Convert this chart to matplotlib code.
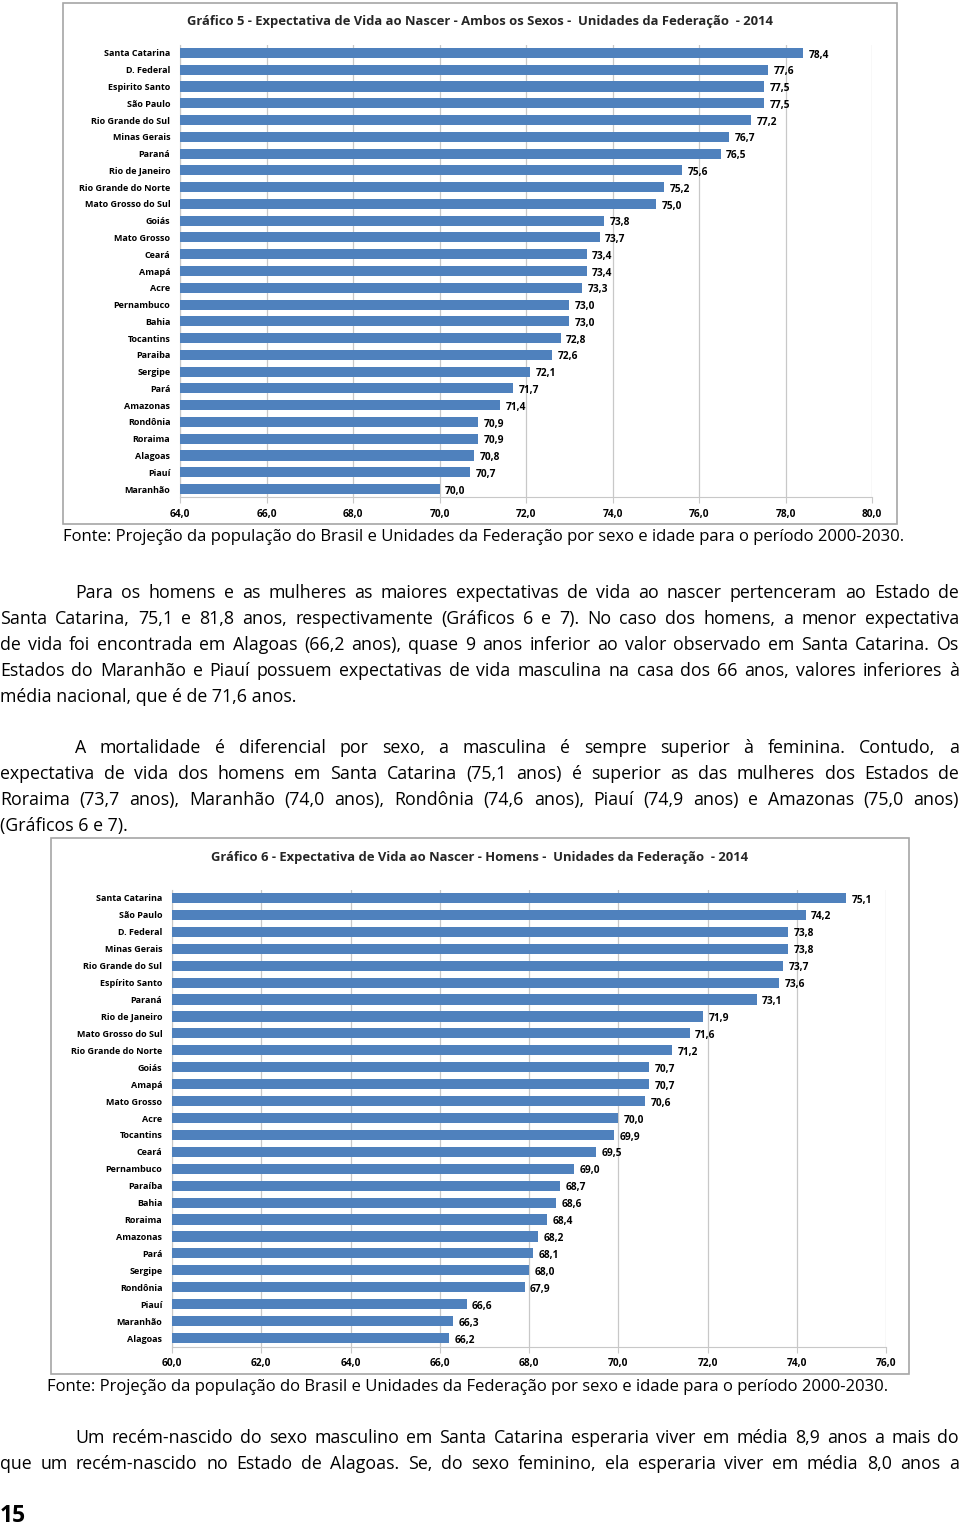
import matplotlib
matplotlib.use("Agg")
import matplotlib.pyplot as plt
from matplotlib.patches import Rectangle

plt.rcParams['font.family'] = ['Open Sans', 'DejaVu Sans']

# Gráfico 5 - ambos os sexos
uf5 = ["Santa Catarina", "D. Federal", "Espirito Santo", "São Paulo", "Rio Grande do Sul",
       "Minas Gerais", "Paraná", "Rio de Janeiro", "Rio Grande do Norte", "Mato Grosso do Sul",
       "Goiás", "Mato Grosso", "Ceará", "Amapá", "Acre", "Pernambuco", "Bahia", "Tocantins",
       "Paraiba", "Sergipe", "Pará", "Amazonas", "Rondônia", "Roraima", "Alagoas", "Piauí",
       "Maranhão"]
ev5 = [78.4, 77.6, 77.5, 77.5, 77.2, 76.7, 76.5, 75.6, 75.2, 75.0, 73.8, 73.7, 73.4, 73.4,
       73.3, 73.0, 73.0, 72.8, 72.6, 72.1, 71.7, 71.4, 70.9, 70.9, 70.8, 70.7, 70.0]
ticks5 = [64, 66, 68, 70, 72, 74, 76, 78, 80]

# Gráfico 6 - homens
uf6 = ["Santa Catarina", "São Paulo", "D. Federal", "Minas Gerais", "Rio Grande do Sul",
       "Espírito Santo", "Paraná", "Rio de Janeiro", "Mato Grosso do Sul", "Rio Grande do Norte",
       "Goiás", "Amapá", "Mato Grosso", "Acre", "Tocantins", "Ceará", "Pernambuco", "Paraíba",
       "Bahia", "Roraima", "Amazonas", "Pará", "Sergipe", "Rondônia", "Piauí", "Maranhão",
       "Alagoas"]
ev6 = [75.1, 74.2, 73.8, 73.8, 73.7, 73.6, 73.1, 71.9, 71.6, 71.2, 70.7, 70.7, 70.6, 70.0,
       69.9, 69.5, 69.0, 68.7, 68.6, 68.4, 68.2, 68.1, 68.0, 67.9, 66.6, 66.3, 66.2]
ticks6 = [60, 62, 64, 66, 68, 70, 72, 74, 76]

fonte = "Fonte: Projeção da população do Brasil e Unidades da Federação por sexo e idade para o período 2000-2030."

par1 = ["Para os homens e as mulheres as maiores expectativas de vida ao nascer pertenceram ao Estado de",
        "Santa Catarina, 75,1 e 81,8 anos, respectivamente (Gráficos 6 e 7). No caso dos homens, a menor expectativa",
        "de vida foi encontrada em Alagoas (66,2 anos), quase 9 anos inferior ao valor observado em Santa Catarina. Os",
        "Estados do Maranhão e Piauí possuem expectativas de vida masculina na casa dos 66 anos, valores inferiores à",
        "média nacional, que é de 71,6 anos."]
par2 = ["A mortalidade é diferencial por sexo, a masculina é sempre superior à feminina. Contudo, a",
        "expectativa de vida dos homens em Santa Catarina (75,1 anos) é superior as das mulheres dos Estados de",
        "Roraima (73,7 anos), Maranhão (74,0 anos), Rondônia (74,6 anos), Piauí (74,9 anos) e Amazonas (75,0 anos)",
        "(Gráficos 6 e 7)."]
par3 = ["Um recém-nascido do sexo masculino em Santa Catarina esperaria viver em média 8,9 anos a mais do",
        "que um recém-nascido no Estado de Alagoas. Se, do sexo feminino, ela esperaria viver em média 8,0 anos a"]

W, H = 960, 1529
fig = plt.figure(figsize=(W / 100, H / 100), dpi=100)
fig.patch.set_facecolor('white')
renderer = fig.canvas.get_renderer()

BAR = '#4f81bd'
GRID = '#c8c8c8'


def fx(x):
    return x / W


def fy(y):
    return 1 - y / H


def frame(x0, y0, x1, y1):
    fig.add_artist(Rectangle((fx(x0), fy(y1)), fx(x1) - fx(x0), fy(y0) - fy(y1),
                             transform=fig.transFigure, fill=False, edgecolor='#a6a6a6', lw=1.2))


def chart(names, vals, ticks, left, right, top, bottom, title, title_y):
    ax = fig.add_axes([fx(left), fy(bottom), fx(right) - fx(left), fy(top) - fy(bottom)])
    ypos = list(range(len(names)))
    ax.barh(ypos, vals, left=0, height=0.6, color=BAR, zorder=3)
    ax.set_xlim(ticks[0], ticks[-1])
    ax.set_ylim(len(names) - 0.5, -0.5)
    ax.set_xticks(ticks)
    ax.set_xticklabels([f"{t:.1f}".replace('.', ',') for t in ticks], fontsize=7.3, fontweight='bold')
    ax.set_yticks(ypos)
    ax.set_yticklabels(names, fontsize=6.5, fontweight='bold')
    ax.tick_params(axis='y', length=0, pad=7)
    ax.tick_params(axis='x', length=4, color=GRID, pad=4)
    ax.grid(axis='x', color=GRID, lw=0.9, zorder=0)
    for s in ['top', 'right']:
        ax.spines[s].set_visible(False)
    for s in ['left', 'bottom']:
        ax.spines[s].set_color(GRID)
    for y, v in zip(ypos, vals):
        ax.annotate(f"{v:.1f}".replace('.', ','), (v, y), xytext=(4, -1.5), textcoords='offset points',
                    va='center', ha='left', fontsize=7.3, fontweight='bold')
    fig.text(fx(480), fy(title_y), title, ha='center', va='center', fontsize=9.4, fontweight='bold',
             color='#262626')


frame(63, 3, 897, 524)
chart(uf5, ev5, ticks5, 180, 872, 44.6, 497.4,
      "Gráfico 5 - Expectativa de Vida ao Nascer - Ambos os Sexos -  Unidades da Federação  - 2014", 22)
frame(51, 838, 909, 1374)
chart(uf6, ev6, ticks6, 172, 886, 889.5, 1346.5,
      "Gráfico 6 - Expectativa de Vida ao Nascer - Homens -  Unidades da Federação  - 2014", 858)


def text_w(s, size):
    t = fig.text(0, 0, s, fontsize=size)
    ww = t.get_window_extent(renderer).width
    t.remove()
    return ww


# caption fitted to its width; paragraphs a bit larger so justified gaps stay natural
fs_cap = 12 * 840 / text_w(fonte, 12)
fs_line = 12 * 959 / text_w(par1[1], 12)
FS = (fs_cap * fs_line) ** 0.5


def line(text, x0, x1, y, justify=True):
    words = text.split()
    if not justify:
        fig.text(fx(x0), fy(y), text, fontsize=FS, va='center', ha='left')
        return
    widths = [text_w(w, FS) for w in words]
    gap = (x1 - x0 - sum(widths)) / (len(words) - 1)
    x = x0
    for w, ww in zip(words, widths):
        fig.text(fx(x), fy(y), w, fontsize=FS, va='center', ha='left')
        x += ww + gap


def paragraph(lines, y0, last_full=False):
    for i, t in enumerate(lines):
        x0 = 75 if i == 0 else 0
        last = (i == len(lines) - 1) and not last_full
        line(t, x0, 959, y0 + 26 * i, justify=not last)


fig.text(fx(63), fy(537), fonte, fontsize=fs_cap, va='center', ha='left')
paragraph(par1, 593)
paragraph(par2, 748)
fig.text(fx(47), fy(1387), fonte, fontsize=fs_cap, va='center', ha='left')
paragraph(par3, 1438, last_full=True)

fig.text(fx(0), fy(1516), "15", fontsize=16.5, fontweight='bold', va='center', ha='left')

fig.savefig("out.png", dpi=100)
